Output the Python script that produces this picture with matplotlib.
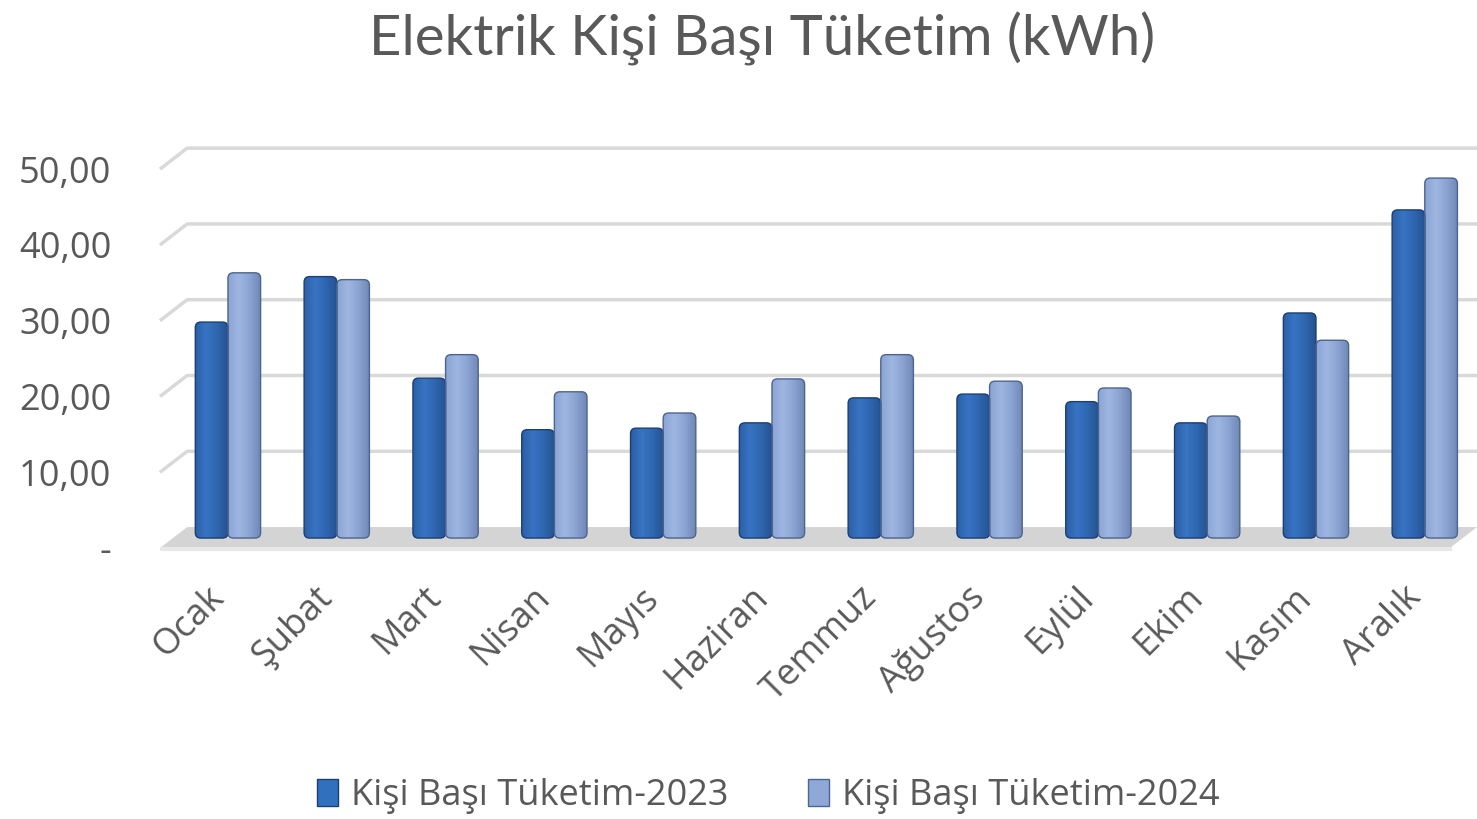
import numpy as np
import matplotlib
matplotlib.use('Agg')
import matplotlib.pyplot as plt
from matplotlib.colors import LinearSegmentedColormap
from matplotlib.patches import Polygon, Patch, FancyBboxPatch
from matplotlib.transforms import ScaledTranslation

# Data
months = ['Ocak', 'Şubat', 'Mart', 'Nisan', 'Mayıs', 'Haziran',
          'Temmuz', 'Ağustos', 'Eylül', 'Ekim', 'Kasım', 'Aralık']
v2023 = [28.5, 34.5, 21.1, 14.3, 14.5, 15.2, 18.5, 19.0, 18.0, 15.2, 29.7, 43.3]
v2024 = [35.0, 34.1, 24.2, 19.3, 16.5, 21.0, 24.2, 20.7, 19.8, 16.1, 26.1, 47.5]
series_names = ['Kişi Başı Tüketim-2023', 'Kişi Başı Tüketim-2024']
yticks = [0, 10, 20, 30, 40, 50]
ytick_labels = ['-', '10,00', '20,00', '30,00', '40,00', '50,00']

grey_txt = '#595959'
cmap23 = LinearSegmentedColormap.from_list('c23', ['#2a5fa6', '#3874c2', '#2f66b0', '#24528f'])
cmap24 = LinearSegmentedColormap.from_list('c24', ['#8aa4d4', '#9fb6e2', '#8aa3d2', '#6f87b5'])

fig = plt.figure(figsize=(14.77, 8.19), dpi=100)
ax = fig.add_axes([0.1083, 0.3162, 0.8917, 0.513])
x_lo, x_hi = -0.625, 11.48
y_lo, y_hi = -2.9, 52.54
ax.set_xlim(x_lo, x_hi)
ax.set_ylim(y_lo, y_hi)

# pseudo 3D: front plane sits below the bars, back wall above
dx, d_front, d_back = 0.25, 1.32, 1.45
for v in yticks[1:]:
    ax.plot([x_lo, x_lo + dx, x_hi], [v - d_front, v + d_back, v + d_back],
            color='#d9d9d9', lw=2.5, zorder=1, solid_capstyle='butt', clip_on=False)

# floor
floor = Polygon([(x_lo, -d_front), (x_hi - dx, -d_front), (x_hi, d_back), (x_lo + dx, d_back)],
                closed=True, facecolor='#d4d4d4', edgecolor='none', zorder=2)
ax.add_patch(floor)
ax.plot([x_lo, x_hi - dx], [-d_front - 0.1, -d_front - 0.1], color='#e8e8e8', lw=3, zorder=2)

x = np.arange(len(months))
w = 0.3
bars1 = ax.bar(x - w / 2, v2023, w, color='none', edgecolor='none', zorder=3)
bars2 = ax.bar(x + w / 2, v2024, w, color='none', edgecolor='none', zorder=3)
grad = np.linspace(0, 1, 256).reshape(1, -1)
aspect = (1477 * 0.8917 / (x_hi - x_lo)) / (819 * 0.513 / (y_hi - y_lo))
for bars, cm, ec in [(bars1, cmap23, '#1c3f73'), (bars2, cmap24, '#4d6490')]:
    for b in bars:
        x0, y0, bw, bh = b.get_x(), b.get_y(), b.get_width(), b.get_height()
        shape = FancyBboxPatch((x0, y0), bw, bh, boxstyle='round,pad=0,rounding_size=0.05',
                               mutation_aspect=aspect, facecolor='none', edgecolor=ec,
                               lw=1.0, zorder=3.1)
        ax.add_patch(shape)
        im = ax.imshow(grad, cmap=cm, extent=[x0, x0 + bw, y0, y0 + bh],
                       aspect='auto', zorder=3, interpolation='bicubic')
        im.set_clip_path(shape)
ax.set_xlim(x_lo, x_hi)
ax.set_ylim(y_lo, y_hi)

for s in ax.spines.values():
    s.set_visible(False)
ax.set_yticks(yticks)
ax.set_yticklabels(ytick_labels, fontsize=26, color=grey_txt, family='Open Sans')
ax.tick_params(axis='y', length=0, pad=35)
for lab in ax.get_yticklabels():
    lab.set_transform(lab.get_transform() + ScaledTranslation(0, -10 / 100, fig.dpi_scale_trans))
ax.set_xticks(x)
ax.set_xticklabels(months, rotation=45, ha='right', rotation_mode='anchor',
                   fontsize=26, color=grey_txt, family='Open Sans')
ax.tick_params(axis='x', length=0, pad=14)
for lab in ax.get_xticklabels():
    lab.set_transform(lab.get_transform() + ScaledTranslation(-22 / 100, 0, fig.dpi_scale_trans))

fig.text(0.516, 0.952, 'Elektrik Kişi Başı Tüketim (kWh)', ha='center', va='center',
         fontsize=40.5, color=grey_txt, family='Lato')

handles = [Patch(facecolor='#3070bd', edgecolor='#1c3f73'),
           Patch(facecolor='#8ea8d8', edgecolor='#4d6490')]
fig.legend(handles, series_names, loc='center', bbox_to_anchor=(0.52, 0.028), ncol=2,
           frameon=False, prop={'family': 'Open Sans', 'size': 26}, labelcolor=grey_txt,
           handlelength=0.6, handleheight=0.8, handletextpad=0.35, columnspacing=2.2)

fig.savefig('out.png', dpi=100)
